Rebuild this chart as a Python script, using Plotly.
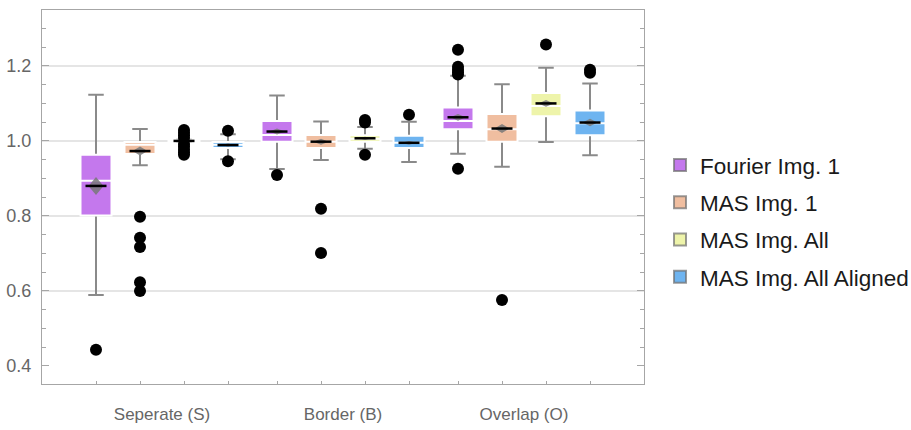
import plotly.graph_objects as go

# ---------------- data ----------------
GROUPS = ["Seperate (S)", "Border (B)", "Overlap (O)"]
SERIES = ["Fourier Img. 1", "MAS Img. 1", "MAS Img. All", "MAS Img. All Aligned"]

# rows: series (Fourier, MAS 1, MAS All, MAS All Aligned); columns: groups (S, B, O)
Q1 = [
    [0.801, 0.998, 1.031],
    [0.965, 0.981, 0.998],
    [0.998, 0.998, 1.066],
    [0.981, 0.981, 1.015],
]
MEDIAN = [
    [0.894, 1.016, 1.053],
    [0.990, 0.998, 1.031],
    [1.000, 1.006, 1.093],
    [0.990, 0.995, 1.047],
]
Q3 = [
    [0.963, 1.053, 1.089],
    [0.997, 1.016, 1.072],
    [1.002, 1.015, 1.128],
    [0.997, 1.014, 1.081],
]
LOWER = [
    [0.589, 0.925, 0.966],
    [0.935, 0.949, 0.931],
    [0.997, 0.979, 0.997],
    [0.951, 0.944, 0.962],
]
UPPER = [
    [1.123, 1.121, 1.174],
    [1.032, 1.052, 1.151],
    [1.003, 1.037, 1.195],
    [1.018, 1.051, 1.153],
]
MEAN = [
    [0.880, 1.025, 1.063],
    [0.973, 0.998, 1.033],
    [1.000, 1.007, 1.100],
    [0.989, 0.995, 1.049],
]
MEAN_CI = [
    [0.024, 0.008, 0.009],
    [0.012, 0.008, 0.012],
    [0.002, 0.004, 0.009],
    [0.004, 0.005, 0.010],
]
OUTLIERS = [
    [[0.443], [0.909], [1.243, 1.198, 1.190, 1.183, 1.177, 0.926]],
    [[0.798, 0.742, 0.717, 0.623, 0.600], [0.819, 0.701], [0.576]],
    [[1.029, 1.022, 1.015, 1.008, 0.992, 0.985, 0.977, 0.970, 0.963], [1.056, 1.049, 0.963], [1.257]],
    [[1.027, 0.946], [1.070], [1.190, 1.182]],
]
Y_TICKS = [0.4, 0.6, 0.8, 1.0, 1.2]
GRID_VALUES = [0.6, 0.8, 1.0, 1.2]

# ---------------- style ----------------
COLORS = ["#C478ED", "#F0BEA0", "#EEF4AA", "#6EB4F0"]
WHISKER = "#8a8a8a"
FRAME = "#a6a6a6"
GRID = "#dcdcdc"
TICKTXT = "#666666"
FONT = "Liberation Sans, Arial, sans-serif"
SLOT = 44 / 181      # spacing between boxes inside a group (category units)
BOX_W = 31 / 181     # box width
DIA_W = 7.5 / 181    # half width of the mean diamond

fig = go.Figure()

positions = []
for j in range(len(SERIES)):
    positions.append([g + (j - 1.5) * SLOT for g in range(len(GROUPS))])

# grey whiskers + caps (box collapsed onto the median, hidden under the coloured box)
for j in range(len(SERIES)):
    fig.add_trace(go.Box(
        x=positions[j], q1=MEDIAN[j], median=MEDIAN[j], q3=MEDIAN[j],
        lowerfence=LOWER[j], upperfence=UPPER[j],
        width=BOX_W, whiskerwidth=0.5, boxpoints=False,
        line=dict(color=WHISKER, width=2), fillcolor=COLORS[j],
        showlegend=False, hoverinfo="skip"))

# coloured boxes with white median line on top
for j in range(len(SERIES)):
    fig.add_trace(go.Box(
        x=positions[j], q1=Q1[j], median=MEDIAN[j], q3=Q3[j],
        lowerfence=Q1[j], upperfence=Q3[j],
        width=BOX_W, whiskerwidth=0, boxpoints=False,
        line=dict(color="white", width=2), fillcolor=COLORS[j],
        showlegend=False, hoverinfo="skip"))

# mean diamonds (confidence interval)
for j in range(len(SERIES)):
    dx, dy = [], []
    for g in range(len(GROUPS)):
        p, m, c = positions[j][g], MEAN[j][g], MEAN_CI[j][g]
        dx += [p - DIA_W, p, p + DIA_W, p, p - DIA_W, None]
        dy += [m, m + c, m, m - c, m, None]
    fig.add_trace(go.Scatter(
        x=dx, y=dy, mode="lines", fill="toself",
        fillcolor="rgba(120,120,120,0.85)", line=dict(width=0),
        showlegend=False, hoverinfo="skip"))

# mean markers
for j in range(len(SERIES)):
    fig.add_trace(go.Scatter(
        x=positions[j], y=MEAN[j], mode="markers",
        marker=dict(symbol="line-ew", size=15, color="black",
                    line=dict(color="black", width=2.5)),
        showlegend=False, hoverinfo="skip"))

# outliers
for j in range(len(SERIES)):
    ox, oy = [], []
    for g in range(len(GROUPS)):
        for v in OUTLIERS[j][g]:
            ox.append(positions[j][g])
            oy.append(v)
    fig.add_trace(go.Scatter(
        x=ox, y=oy, mode="markers",
        marker=dict(symbol="circle", size=12, color="black"),
        showlegend=False, hoverinfo="skip"))

# legend entries
for j, name in enumerate(SERIES):
    fig.add_trace(go.Scatter(
        x=[None], y=[None], mode="markers", name=name, legendgroup=name,
        marker=dict(symbol="square", size=15, color=COLORS[j],
                    line=dict(color="rgba(110,110,110,0.7)", width=1))))

# small ticks under every box (secondary x axis)
all_pos = sorted(p for row in positions for p in row)
fig.add_trace(go.Scatter(x=[all_pos[0]], y=[None], xaxis="x2", mode="markers",
                         showlegend=False, hoverinfo="skip"))

for v in GRID_VALUES:
    fig.add_shape(type="line", xref="paper", x0=0, x1=1, yref="y", y0=v, y1=v,
                  line=dict(color=GRID, width=1.5), layer="below")

fig.update_layout(
    width=911, height=430,
    margin=dict(l=42, r=267, t=10, b=46, autoexpand=False),
    paper_bgcolor="white", plot_bgcolor="white",
    boxmode="overlay", hovermode=False,
    font=dict(family=FONT, color=TICKTXT),
    xaxis=dict(range=[-0.663, 2.663], tickmode="array", tickvals=[0, 1, 2],
               ticktext=GROUPS, ticks="", showgrid=False, zeroline=False,
               showline=True, mirror=True, linecolor=FRAME, linewidth=1,
               automargin=False,
               tickfont=dict(size=17, color=TICKTXT), ticklabelstandoff=15),
    xaxis2=dict(overlaying="x", matches="x", anchor="y", side="bottom",
                tickmode="array", tickvals=all_pos, ticks="inside", ticklen=3,
                tickcolor=FRAME, showticklabels=False, showgrid=False,
                zeroline=False, showline=False, automargin=False),
    yaxis=dict(range=[0.352, 1.349], tickmode="linear", tick0=0.4, dtick=0.2,
               tickformat=".1f", ticks="inside", ticklen=7, tickcolor=FRAME,
               minor=dict(dtick=0.05, tick0=0, ticks="inside", ticklen=4,
                          tickcolor=FRAME, showgrid=False),
               showgrid=False, zeroline=False, showline=True, mirror="ticks",
               linecolor=FRAME, linewidth=1, automargin=False,
               tickfont=dict(size=18, color=TICKTXT), ticklabelstandoff=6),
    legend=dict(x=1.0266, xanchor="left", y=0.642, yanchor="top",
                font=dict(size=22.5, color="#1a1a1a", family=FONT),
                traceorder="grouped", tracegroupgap=5,
                bgcolor="rgba(0,0,0,0)", itemsizing="constant"),
)

# remove the browser's default 8px page margin so the figure fills the window
fig.write_html("out.html",
               config={"displayModeBar": False},
               post_script="document.body.style.margin='0';"
                           "document.body.style.overflow='hidden';")
